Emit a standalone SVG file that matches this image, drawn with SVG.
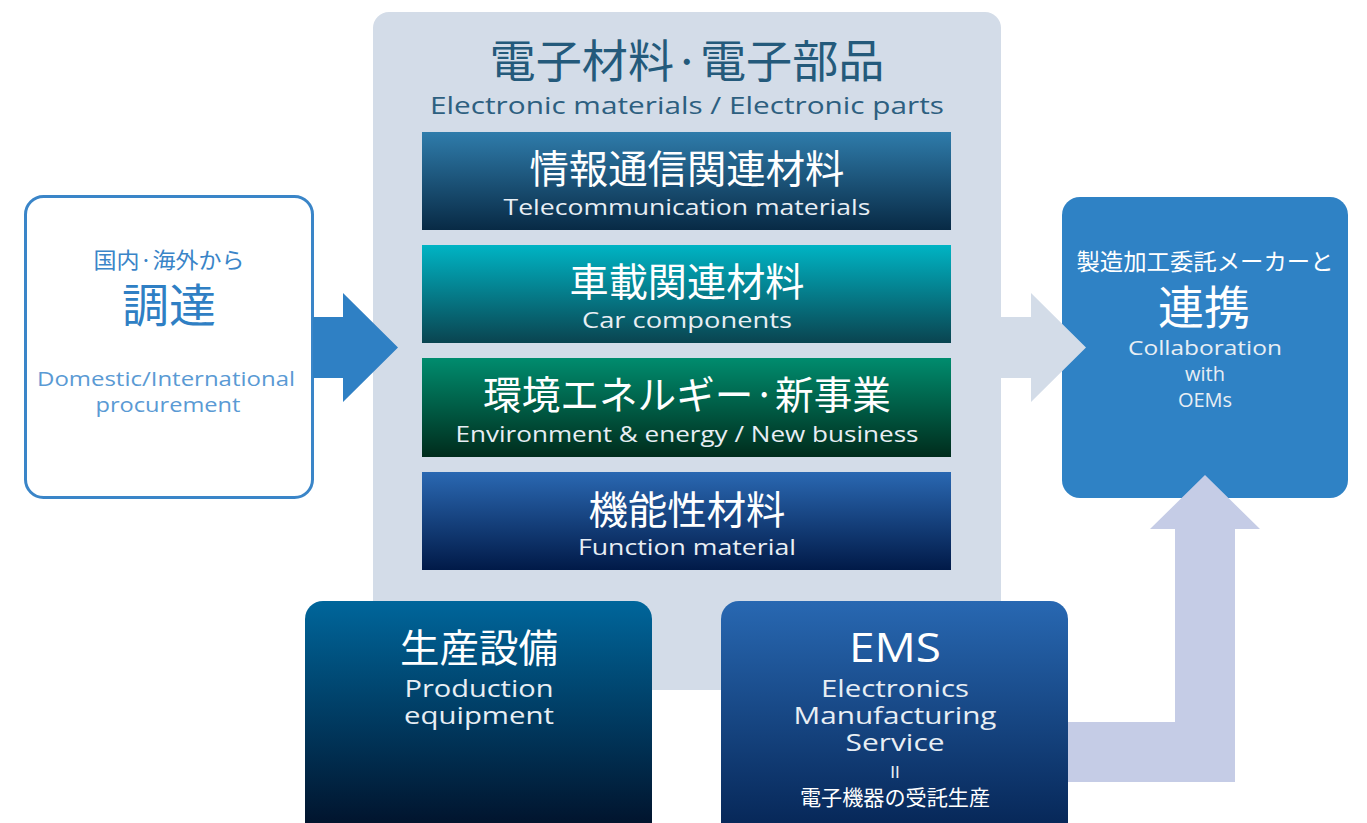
<svg xmlns="http://www.w3.org/2000/svg" width="1367" height="823" viewBox="0 0 1367 823">
<style>
.jp{font-family:"Noto Sans CJK JP","Noto Sans",sans-serif;text-anchor:middle}
.en{font-family:"Open Sans","Liberation Sans",sans-serif;text-anchor:middle}
.w{fill:#ffffff}
.ew{fill:#e8eef4}
</style>
<defs>
<linearGradient id="gTele" x1="0" y1="0" x2="0" y2="1"><stop offset="0" stop-color="#2f7cab"/><stop offset="1" stop-color="#082a45"/></linearGradient>
<linearGradient id="gCar" x1="0" y1="0" x2="0" y2="1"><stop offset="0" stop-color="#00b4c4"/><stop offset="1" stop-color="#0a4450"/></linearGradient>
<linearGradient id="gEnv" x1="0" y1="0" x2="0" y2="1"><stop offset="0" stop-color="#008c6e"/><stop offset="1" stop-color="#002c1c"/></linearGradient>
<linearGradient id="gFunc" x1="0" y1="0" x2="0" y2="1"><stop offset="0" stop-color="#2a68b2"/><stop offset="1" stop-color="#011a48"/></linearGradient>
<linearGradient id="gProd" x1="0" y1="0" x2="0" y2="1"><stop offset="0" stop-color="#00669b"/><stop offset="1" stop-color="#010a20"/></linearGradient>
<linearGradient id="gEms" x1="0" y1="0" x2="0" y2="1"><stop offset="0" stop-color="#2868b2"/><stop offset="1" stop-color="#03204e"/></linearGradient>
</defs>
<rect width="1367" height="823" fill="#ffffff"/>

<g id="panel-electronic">
<rect x="373" y="12" width="628" height="678" rx="16" fill="#d3dce8"/>
<text class="jp" x="687" y="78" font-size="45" fill="#245a7b" textLength="395" lengthAdjust="spacingAndGlyphs">電子材料·電子部品</text>
<text class="en" x="687" y="114" font-size="24" fill="#2d5f80" textLength="514" lengthAdjust="spacingAndGlyphs">Electronic materials / Electronic parts</text>
</g>

<g id="node-telecom">
<rect x="422" y="132" width="529" height="98" fill="url(#gTele)"/>
<text class="jp w" x="687" y="183" font-size="39" textLength="315" lengthAdjust="spacingAndGlyphs">情報通信関連材料</text>
<text class="en ew" x="687" y="215" font-size="22" textLength="367" lengthAdjust="spacingAndGlyphs">Telecommunication materials</text>
</g>
<g id="node-car">
<rect x="422" y="245" width="529" height="98" fill="url(#gCar)"/>
<text class="jp w" x="687" y="296" font-size="39" textLength="235" lengthAdjust="spacingAndGlyphs">車載関連材料</text>
<text class="en ew" x="687" y="328" font-size="22" textLength="210" lengthAdjust="spacingAndGlyphs">Car components</text>
</g>
<g id="node-env">
<rect x="422" y="358" width="529" height="99" fill="url(#gEnv)"/>
<text class="jp w" x="687" y="409" font-size="39" textLength="408" lengthAdjust="spacingAndGlyphs">環境エネルギー·新事業</text>
<text class="en ew" x="687" y="442" font-size="22" textLength="463" lengthAdjust="spacingAndGlyphs">Environment &amp; energy / New business</text>
</g>
<g id="node-func">
<rect x="422" y="472" width="529" height="98" fill="url(#gFunc)"/>
<text class="jp w" x="687" y="524" font-size="39" textLength="197" lengthAdjust="spacingAndGlyphs">機能性材料</text>
<text class="en ew" x="687" y="555" font-size="22" textLength="218" lengthAdjust="spacingAndGlyphs">Function material</text>
</g>

<g id="node-procurement">
<rect x="25.5" y="196.5" width="287" height="301" rx="18" fill="#ffffff" stroke="#3a85c8" stroke-width="3"/>
<text class="jp" x="169" y="268" font-size="22" fill="#3a85c8" textLength="151" lengthAdjust="spacingAndGlyphs">国内·海外から</text>
<text class="jp" x="169" y="322" font-size="46" fill="#2f7fc4" textLength="94" lengthAdjust="spacingAndGlyphs">調達</text>
<text class="en" x="166" y="386" font-size="20" fill="#5a9ad4" textLength="258" lengthAdjust="spacingAndGlyphs">Domestic/International</text>
<text class="en" x="168" y="412" font-size="20" fill="#5a9ad4" textLength="145" lengthAdjust="spacingAndGlyphs">procurement</text>
</g>

<g id="node-oem">
<rect x="1062" y="197" width="286" height="301" rx="18" fill="#2f82c5"/>
<text class="jp w" x="1205" y="270" font-size="23" textLength="257" lengthAdjust="spacingAndGlyphs">製造加工委託メーカーと</text>
<text class="jp w" x="1204" y="324" font-size="46" textLength="92" lengthAdjust="spacingAndGlyphs">連携</text>
<text class="en ew" x="1205" y="355" font-size="20" textLength="154" lengthAdjust="spacingAndGlyphs">Collaboration</text>
<text class="en ew" x="1205" y="381" font-size="20">with</text>
<text class="en ew" x="1205" y="407" font-size="20">OEMs</text>
</g>

<g id="connectors">
<path d="M313,317 H343 V293 L398,347.5 L343,402 V378 H313 Z" fill="#2f80c4"/>
<path d="M1001,317 H1031 V293 L1086,347.5 L1031,402 V378 H1001 Z" fill="#d3dce8"/>
<path d="M1055,722 H1175 V529 H1150 L1205,475 L1260,529 H1235 V782 H1055 Z" fill="#c5cce6"/>
</g>

<g id="node-production">
<rect x="305" y="601" width="347" height="250" rx="18" fill="url(#gProd)"/>
<text class="jp w" x="479" y="662" font-size="39" textLength="158" lengthAdjust="spacingAndGlyphs">生産設備</text>
<text class="en ew" x="479" y="697" font-size="23" textLength="149" lengthAdjust="spacingAndGlyphs">Production</text>
<text class="en ew" x="479" y="724" font-size="23" textLength="150" lengthAdjust="spacingAndGlyphs">equipment</text>
</g>

<g id="node-ems">
<rect x="721" y="601" width="347" height="250" rx="18" fill="url(#gEms)"/>
<text class="en w" x="895" y="662" font-size="40" font-family="Liberation Sans" textLength="92" lengthAdjust="spacingAndGlyphs">EMS</text>
<text class="en ew" x="895" y="697" font-size="23" textLength="148" lengthAdjust="spacingAndGlyphs">Electronics</text>
<text class="en ew" x="895" y="724" font-size="23" textLength="203" lengthAdjust="spacingAndGlyphs">Manufacturing</text>
<text class="en ew" x="895" y="751" font-size="23" textLength="99" lengthAdjust="spacingAndGlyphs">Service</text>
<text x="895" y="778" font-size="17" font-family="Liberation Sans" text-anchor="middle" fill="#e8eef4">II</text>
<text class="jp w" x="895" y="805" font-size="21" textLength="190" lengthAdjust="spacingAndGlyphs">電子機器の受託生産</text>
</g>
</svg>
